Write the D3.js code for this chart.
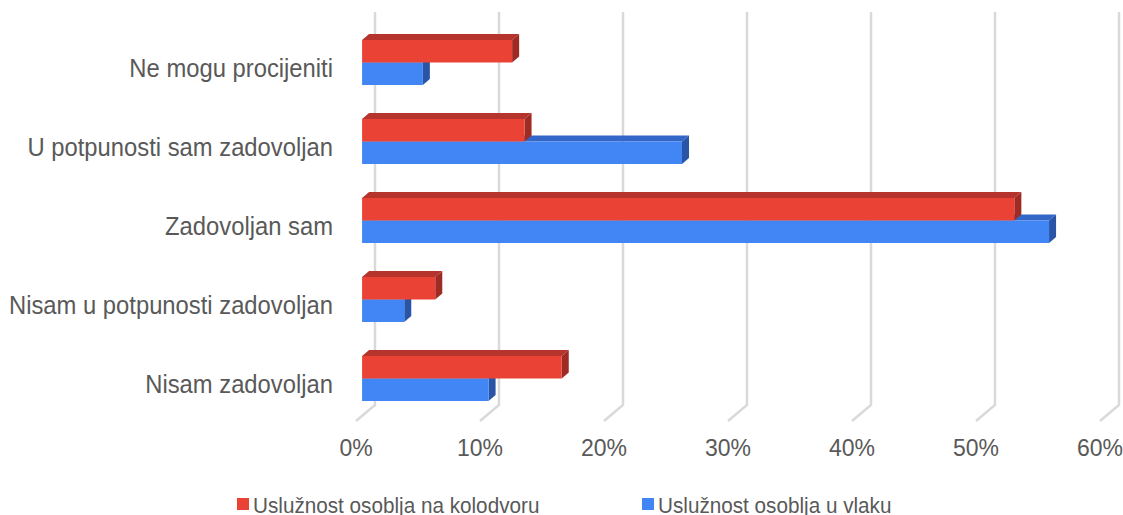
<!DOCTYPE html>
<html lang="hr">
<head>
  <meta charset="UTF-8">
  <title>Uslužnost osoblja</title>
  <style>
    html, body { margin: 0; background: #fff; }
    body, text { font-family: 'Liberation Sans', Arial, sans-serif; fill: #595959; }
    .grid { fill: none; stroke: #d9d9d9; stroke-width: 2.5px; }
  </style>
</head>
<body>
<svg id="chart" width="1123" height="515" viewBox="0 0 1123 515"></svg>
<script src="https://cdn.jsdelivr.net/npm/d3@7"></script>
<script>
// data (percent)
const categories = ["Ne mogu procijeniti", "U potpunosti sam zadovoljan", "Zadovoljan sam",
                    "Nisam u potpunosti zadovoljan", "Nisam zadovoljan"];
const seriesNames = ["Uslužnost osoblja na kolodvoru", "Uslužnost osoblja u vlaku"];
const kolodvor = [12.1, 13.1, 52.6, 5.9, 16.1];
const vlak = [4.9, 25.8, 55.4, 3.4, 10.2];
const tickValues = [0, 10, 20, 30, 40, 50, 60];

const colors = [
  {front: "#ea4335", top: "#b5342b", side: "#9e2b24", legend: "#ea4335"},
  {front: "#4285f4", top: "#3366c6", side: "#2a55a6", legend: "#4285f4"}
];

const svg = d3.select("#chart");

// back wall x scale, plus oblique depth offset (front of floor)
const x = d3.scaleLinear().domain([0, 60]).range([375, 1119]);
const depth = {dx: -19, dy: 16};
const wallTop = 12, wallBottom = 405;
const tFront = 0.68, tBack = 0.31;
const stretch = 1.06; // text in the picture is a bit taller than wide

const y = d3.scaleBand().domain(categories).range([40, 401]).paddingInner(34 / 79).paddingOuter(0);
const ys = d3.scaleBand().domain([0, 1]).range([0, y.bandwidth()]);

function place(sel, fx, fy) {
  sel.attr("transform", (d, i) => `translate(${fx(d, i)},${fy(d, i)}) scale(1,${stretch})`);
}

// gridlines (back wall + floor)
svg.append("g").selectAll("path")
  .data(tickValues)
  .join("path")
  .attr("class", "grid")
  .attr("d", v => `M${x(v)},${wallTop}L${x(v)},${wallBottom}L${x(v) + depth.dx},${wallBottom + depth.dy}`);

// tick labels
svg.append("g").selectAll("text")
  .data(tickValues)
  .join("text")
  .call(place, v => x(v) + depth.dx, () => 456)
  .attr("text-anchor", "middle")
  .style("font-size", "23px")
  .text(v => v + "%");

// category labels
svg.append("g").selectAll("text")
  .data(categories)
  .join("text")
  .call(place, () => 333, d => y(d) + y.bandwidth() / 2 + 14)
  .attr("text-anchor", "end")
  .style("font-size", "23.8px")
  .text(d => d);

// 3d bars: blue drawn first so red sits on top of it
const fx = tFront * depth.dx;
const bdx = (tBack - tFront) * depth.dx, bdy = (tBack - tFront) * depth.dy;

const bars = [];
[vlak, kolodvor].forEach((vals, k) => {
  const s = k === 0 ? 1 : 0;
  vals.forEach((v, i) => bars.push({s: s, cat: categories[i], v: v}));
});

const gBars = svg.append("g");
bars.forEach(b => {
  const x0 = x(0) + fx, x1 = x(b.v) + fx;
  const y0 = y(b.cat) + ys(b.s), h = ys.bandwidth();
  const c = colors[b.s];
  const g = gBars.append("g");
  g.append("path")
    .attr("fill", c.top)
    .attr("d", `M${x0},${y0}L${x1},${y0}L${x1 + bdx},${y0 + bdy}L${x0 + bdx},${y0 + bdy}Z`);
  g.append("path")
    .attr("fill", c.side)
    .attr("d", `M${x1},${y0}L${x1 + bdx},${y0 + bdy}L${x1 + bdx},${y0 + h + bdy}L${x1},${y0 + h}Z`);
  g.append("rect")
    .attr("fill", c.front)
    .attr("x", x0).attr("y", y0)
    .attr("width", x1 - x0).attr("height", h);
});

// legend
const legend = svg.append("g").style("font-size", "20.7px");
const legX = [237, 642];
seriesNames.forEach((name, i) => {
  legend.append("rect")
    .attr("x", legX[i]).attr("y", 498)
    .attr("width", 12).attr("height", 12)
    .attr("fill", colors[i].legend);
  legend.append("text")
    .attr("transform", `translate(${legX[i] + 16},513) scale(1,${stretch + 0.04})`)
    .text(name);
});
</script>
</body>
</html>
